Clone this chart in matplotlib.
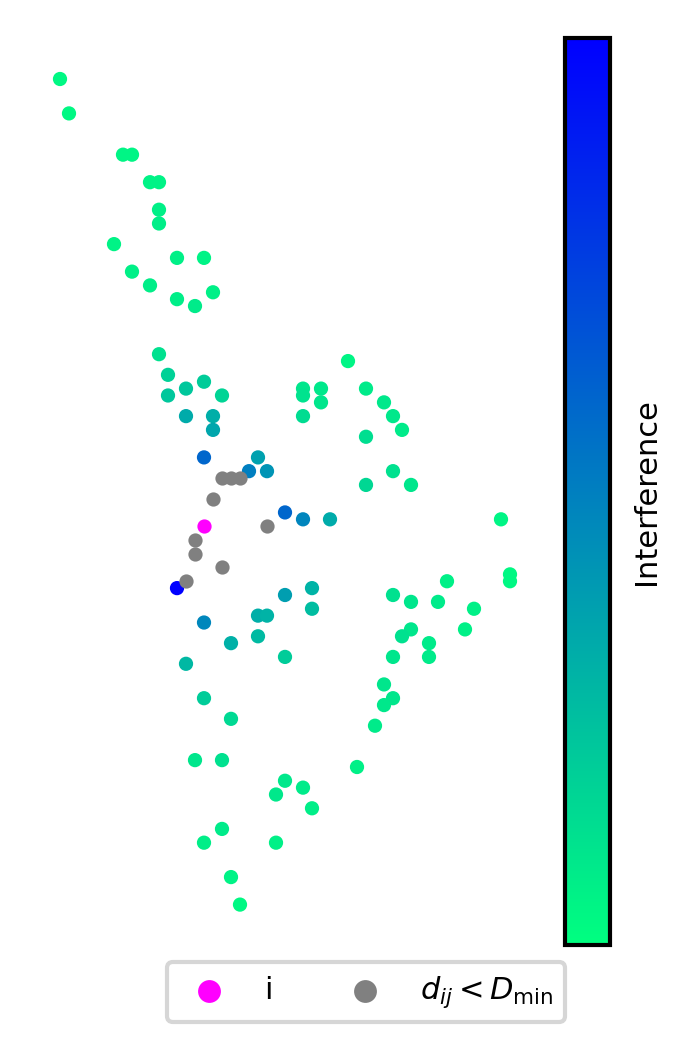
import matplotlib
matplotlib.use("Agg")
import matplotlib.pyplot as plt
import numpy as np

# grid positions of the nodes (column, row) and interference seen by node i
col = [0, 1, 7, 8, 10, 11, 11, 11, 6, 13, 16, 8, 10, 17, 13, 15,
       11, 12, 32, 12, 14, 16, 18, 14, 17, 17, 27, 27, 29, 29, 27,
       34, 36, 37, 38, 34, 37, 34, 39, 16, 22, 21, 23,
       25, 27, 30, 25, 28, 28, 22, 23, 16, 22, 19, 14, 25,
       49, 50, 50, 43, 37, 39, 42, 46, 39, 38, 45, 41, 41, 37,
       36, 37, 36, 35, 16, 19, 15, 18, 33, 25, 27, 24, 28, 18, 16, 24, 19, 20]
row = [0, 5, 11, 11, 15, 15, 19, 21, 24, 26, 26, 28, 30, 31, 32, 33,
       40, 43, 41, 46, 45, 44, 46, 49, 49, 51, 45, 46, 45, 47, 49,
       45, 47, 49, 51, 52, 57, 59, 59, 55, 55, 57, 57,
       63, 64, 64, 75, 74, 77, 78, 78, 79, 81, 82, 85, 84,
       64, 72, 73, 73, 75, 76, 76, 77, 80, 81, 80, 82, 84, 84,
       88, 90, 91, 94, 90, 93, 99, 99, 100, 102, 103, 104, 106, 109, 111, 111, 116, 120]
interference = [0.03, 0.03, 0.04, 0.04, 0.05, 0.05, 0.06, 0.07, 0.05, 0.06, 0.05, 0.06, 0.07, 0.06, 0.07, 0.08,
                0.12, 0.18, 0.04, 0.22, 0.22, 0.2, 0.17, 0.33, 0.32, 0.35, 0.1, 0.11, 0.09, 0.1, 0.14,
                0.08, 0.09, 0.09, 0.08, 0.13, 0.12, 0.16, 0.1, 0.6, 0.37, 0.5, 0.42,
                0.6, 0.48, 0.33, 0.38, 0.3, 0.26, 0.32, 0.3, 0.47, 0.27, 0.31, 0.28, 0.2,
                0.04, 0.03, 0.03, 0.06, 0.12, 0.1, 0.08, 0.06, 0.1, 0.12, 0.06, 0.08, 0.08, 0.1,
                0.1, 0.1, 0.09, 0.08, 0.2, 0.15, 0.1, 0.12, 0.06, 0.09, 0.08, 0.09, 0.07, 0.08, 0.07, 0.06, 0.05, 0.03]

# strongest interferer
strong_col, strong_row, strong_val = [13], [74], [1.0]

# node i and its close neighbours (d_ij < D_min)
i_col, i_row = [16], [65]
near_col = [18, 19, 20, 17, 23, 15, 15, 18, 14]
near_row = [58, 58, 58, 61, 65, 67, 69, 71, 73]

fig = plt.figure(figsize=(3.5, 5.305), dpi=200)
ax = fig.add_axes([40/700, 1 - 945/1061, 490/700, 907/1061])
cax = fig.add_axes([565/700, 1 - 945/1061, 45/700, 907/1061])

sc = ax.scatter(col + strong_col, row + strong_row, c=interference + strong_val,
                cmap="winter_r", vmin=0, vmax=1, s=17)
ax.scatter(near_col, near_row, color="grey", s=17, label=r"$d_{ij} < D_{\min}$")
ax.scatter(i_col, i_row, color="magenta", s=17, label="i")

ax.set_xlim(-20/9, 470/9)
ax.set_ylim((945 - 79)/6.88, (38 - 79)/6.88)
ax.axis("off")

cb = fig.colorbar(sc, cax=cax)
cb.set_ticks([])
cb.outline.set_linewidth(1.5)
cb.set_label("Interference", fontsize=11, labelpad=8)

h, l = ax.get_legend_handles_labels()
leg = fig.legend(h[::-1], l[::-1], loc="center", bbox_to_anchor=(366/700, 1 - 992/1061),
                 ncol=2, markerscale=1.75, fontsize=11)
leg.get_frame().set_linewidth(1.5)

fig.savefig("out.png", dpi=200)
